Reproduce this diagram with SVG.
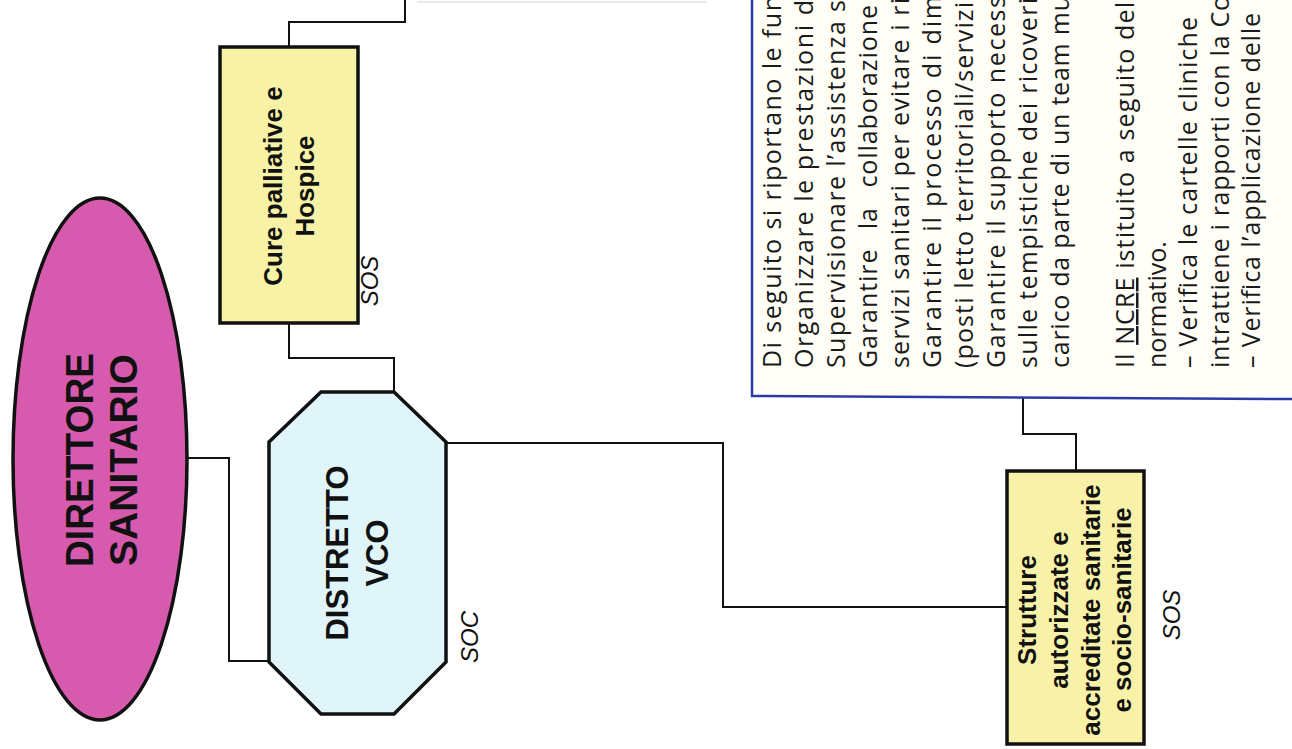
<svg xmlns="http://www.w3.org/2000/svg" width="1292" height="749" viewBox="0 0 1292 749">
  <style>
    .node { stroke: #111; stroke-width: 3.5; }
    .conn { fill: none; stroke: #111; stroke-width: 2; }
    .lbl { font-family: "Liberation Sans", Arial, sans-serif; font-weight: bold; fill: #111; text-anchor: middle; }
    .tag { font-family: "Liberation Sans", Arial, sans-serif; font-style: italic; fill: #111; text-anchor: middle; font-size: 24px; }
    .body { font-family: "Open Sans", "Noto Sans", sans-serif; font-size: 25px; fill: #1a1a1a; }
  </style>
  <rect x="0" y="0" width="1292" height="749" fill="#ffffff"/>

  <line x1="417" y1="2" x2="707" y2="2" stroke="#e2e2e2" stroke-width="1.5"/>

  <g id="connectors">
    <polyline class="conn" points="187,458 229,458 229,661 269,661"/>
    <polyline class="conn" points="289,47 289,22 405,22 405,0"/>
    <polyline class="conn" points="289,323 289,358 394,358 394,392"/>
    <polyline class="conn" points="446,443 723,443 723,607 1007,607"/>
    <polyline class="conn" points="1023,397 1023,434 1076,434 1076,471"/>
  </g>

  <g id="direttore">
    <ellipse class="node" cx="100" cy="459" rx="87" ry="261" fill="#d65aad"/>
    <text class="lbl" font-size="38" transform="translate(93,460) rotate(-90)" textLength="214" lengthAdjust="spacingAndGlyphs">DIRETTORE</text>
    <text class="lbl" font-size="38" transform="translate(137,460) rotate(-90)" textLength="212" lengthAdjust="spacingAndGlyphs">SANITARIO</text>
  </g>

  <g id="distretto">
    <polygon class="node" points="321,392 394,392 446,442 446,662 394,714 321,714 269,662 269,442" fill="#e0f5fa"/>
    <text class="lbl" font-size="31" transform="translate(348,553) rotate(-90)">DISTRETTO</text>
    <text class="lbl" font-size="31" transform="translate(388,553) rotate(-90)">VCO</text>
    <text class="tag" transform="translate(478,637) rotate(-90)">SOC</text>
  </g>

  <g id="cure">
    <rect class="node" x="220" y="47" width="138" height="276" fill="#f7f2a6"/>
    <text class="lbl" font-size="26" transform="translate(282,186) rotate(-90)">Cure palliative e</text>
    <text class="lbl" font-size="26" transform="translate(314,186) rotate(-90)">Hospice</text>
    <text class="tag" transform="translate(378,281) rotate(-90)">SOS</text>
  </g>

  <g id="strutture">
    <rect class="node" x="1007" y="471" width="137" height="273" fill="#f8f2a8"/>
    <text class="lbl" font-size="26" transform="translate(1036,610) rotate(-90)">Strutture</text>
    <text class="lbl" font-size="26" transform="translate(1068,610) rotate(-90)">autorizzate e</text>
    <text class="lbl" font-size="26" transform="translate(1100,610) rotate(-90)">accreditate sanitarie</text>
    <text class="lbl" font-size="26" transform="translate(1131,610) rotate(-90)">e socio-sanitarie</text>
    <text class="tag" transform="translate(1180,615) rotate(-90)">SOS</text>
  </g>

  <g id="textbox">
    <rect x="752" y="-5" width="545" height="402" fill="#fffef7"/>
    <polyline points="752,0 752,396 1292,399" fill="none" stroke="#2c3aa6" stroke-width="2.5"/>
    <text class="body" transform="translate(781,368) rotate(-90)" textLength="372" lengthAdjust="spacing">Di seguito si riportano le fun</text>
    <text class="body" transform="translate(813,368) rotate(-90)" textLength="368" lengthAdjust="spacing">Organizzare le prestazioni d</text>
    <text class="body" transform="translate(845,368) rotate(-90)" textLength="368" lengthAdjust="spacing">Supervisionare l’assistenza s</text>
    <text class="body" transform="translate(877,368) rotate(-90)" word-spacing="12" textLength="363" lengthAdjust="spacing">Garantire la collaborazione</text>
    <text class="body" transform="translate(909,368) rotate(-90)" textLength="370" lengthAdjust="spacing">servizi sanitari per evitare i ri</text>
    <text class="body" transform="translate(941,368) rotate(-90)" textLength="372" lengthAdjust="spacing">Garantire il processo di dim</text>
    <text class="body" transform="translate(973,368) rotate(-90)" textLength="366" lengthAdjust="spacing">(posti letto territoriali/servizi</text>
    <text class="body" transform="translate(1005,368) rotate(-90)" textLength="372" lengthAdjust="spacing">Garantire il supporto necess</text>
    <text class="body" transform="translate(1037,368) rotate(-90)" textLength="370" lengthAdjust="spacing">sulle tempistiche dei ricoveri</text>
    <text class="body" transform="translate(1069,368) rotate(-90)" textLength="372" lengthAdjust="spacing">carico da parte di un team mu</text>
    <text class="body" transform="translate(1134,368) rotate(-90)" textLength="366" lengthAdjust="spacing">Il <tspan text-decoration="underline">NCRE</tspan> istituito a seguito del</text>
    <text class="body" transform="translate(1166,368) rotate(-90)">normativo.</text>
    <text class="body" transform="translate(1197,368) rotate(-90)" textLength="351" lengthAdjust="spacing">– Verifica le cartelle cliniche</text>
    <text class="body" transform="translate(1229,368) rotate(-90)" textLength="372" lengthAdjust="spacing">intrattiene i rapporti con la Co</text>
    <text class="body" transform="translate(1260,368) rotate(-90)" textLength="355" lengthAdjust="spacing">– Verifica l’applicazione delle</text>
  </g>
</svg>
